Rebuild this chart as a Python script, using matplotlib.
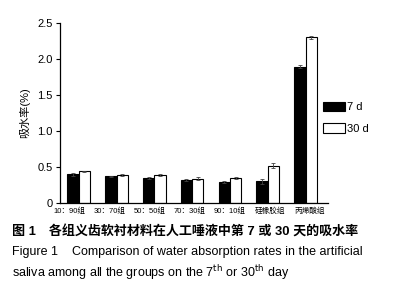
import matplotlib
matplotlib.use("Agg")
import matplotlib.pyplot as plt
import numpy as np

categories = ["10：90组", "30：70组", "50：50组", "70：30组", "90：10组", "硅橡胶组", "丙烯酸组"]
day7 = [0.40, 0.37, 0.35, 0.32, 0.29, 0.30, 1.89]
day30 = [0.44, 0.39, 0.39, 0.34, 0.35, 0.52, 2.30]
err7 = [0.02, 0.01, 0.01, 0.01, 0.01, 0.04, 0.02]
err30 = [0.01, 0.02, 0.02, 0.02, 0.01, 0.03, 0.02]
yticks = [0, 0.5, 1.0, 1.5, 2.0, 2.5]
yticklabels = ["0", "0.5", "1.0", "1.5", "2.0", "2.5"]

fam = ["Liberation Sans", "Noto Sans CJK SC", "DejaVu Sans"]
plt.rcParams['font.family'] = fam

fig = plt.figure(figsize=(3.94, 3.0), dpi=100)
ax = fig.add_axes([0.152, 0.323, 0.680, 0.601])

x = np.arange(len(categories))
w = 0.30
ekw = dict(ecolor="#444444", elinewidth=0.6, capsize=1.5, capthick=0.6)
b1 = ax.bar(x - w/2, day7, w, color="black", edgecolor="black", linewidth=0.8,
            yerr=err7, error_kw=ekw, label="7 d")
b2 = ax.bar(x + w/2, day30, w, color="white", edgecolor="black", linewidth=0.8,
            yerr=err30, error_kw=ekw, label="30 d")

ax.set_xlim(-0.5, 6.59)
ax.set_ylim(0, 2.5)
ax.set_yticks(yticks)
ax.set_yticklabels(yticklabels, fontsize=8)
# tick labels slightly spread relative to bar groups, as in the reference
ax.set_xticks(x * 1.058 - 0.24)
ax.set_xticklabels(categories, fontsize=5.5)
ax.tick_params(axis='x', length=0, pad=3)
ax.tick_params(axis='y', length=3, width=0.8, pad=2)
for s in ["top", "right"]:
    ax.spines[s].set_visible(False)
for s in ["left", "bottom"]:
    ax.spines[s].set_linewidth(0.9)

ax.set_ylabel("吸水率(%)", fontsize=8, labelpad=5)

fig.legend(handles=[b1, b2], labels=["7 d", "30 d"], loc="upper left",
           bbox_to_anchor=(0.808, 0.675), frameon=False, fontsize=8,
           handlelength=2.0, handleheight=0.9, handletextpad=0.2, labelspacing=1.0,
           borderaxespad=0)

fig.text(0.030, 0.228, "图 1　各组义齿软衬材料在人工唾液中第 7 或 30 天的吸水率",
         fontsize=9.4, fontweight="bold", ha="left", va="center")
fig.text(0.030, 0.160, "Figure 1    Comparison of water absorption rates in the artificial",
         fontsize=9, ha="left", va="center")
fig.text(0.030, 0.093, "saliva among all the groups on the 7$^{\\mathrm{th}}$ or 30$^{\\mathrm{th}}$ day",
         fontsize=9, ha="left", va="center")

fig.savefig("out.png", dpi=100)
